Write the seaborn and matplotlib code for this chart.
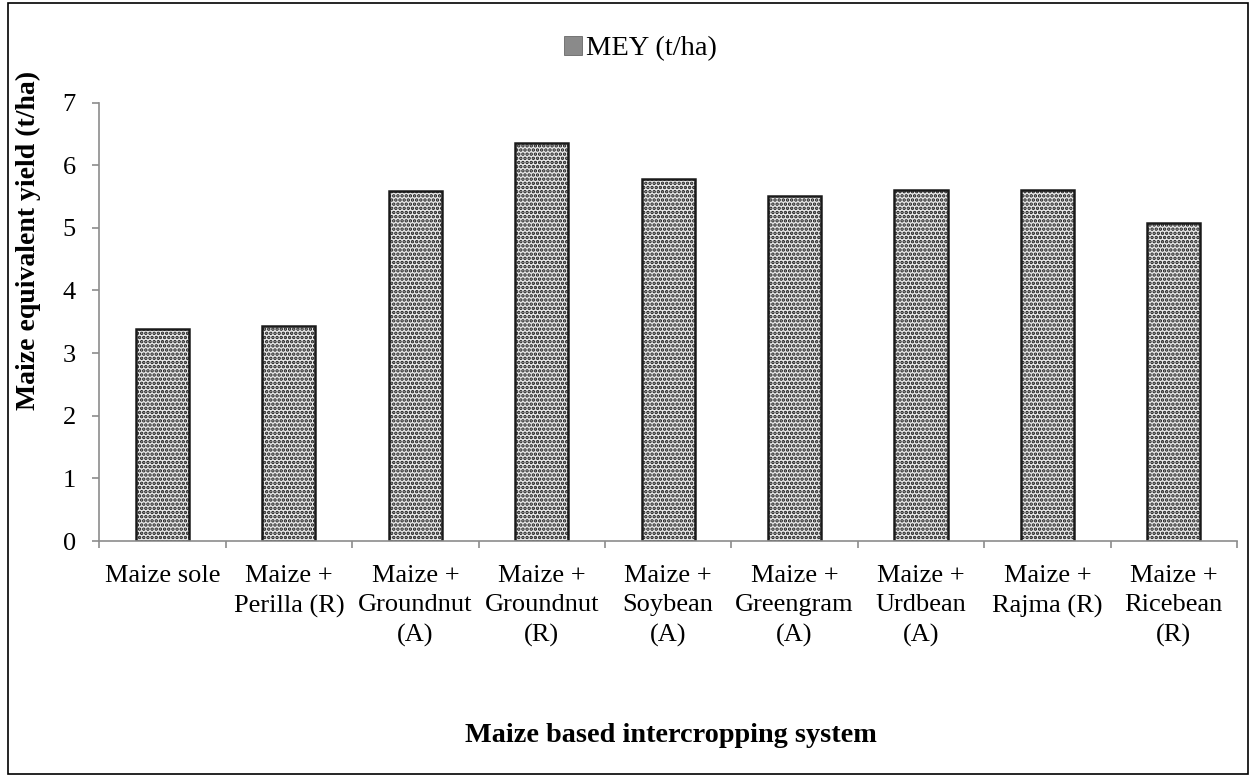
import matplotlib
matplotlib.use("Agg")
import matplotlib.pyplot as plt
import seaborn as sns
import pandas as pd
from matplotlib.patches import Rectangle, Patch

categories = ["Maize sole", "Maize +\nPerilla (R)", "Maize +\nGroundnut\n(A)", "Maize +\nGroundnut\n(R)",
              "Maize +\nSoybean\n(A)", "Maize +\nGreengram\n(A)", "Maize +\nUrdbean\n(A)",
              "Maize +\nRajma (R)", "Maize +\nRicebean\n(R)"]
mey = [3.38, 3.44, 5.58, 6.35, 5.78, 5.50, 5.61, 5.61, 5.08]
series_name = "MEY (t/ha)"
y_ticks = [0, 1, 2, 3, 4, 5, 6, 7]

sns.set_theme(style="white")
plt.rcParams['font.family'] = ['Liberation Serif', 'DejaVu Serif']
plt.rcParams['hatch.linewidth'] = 1.7
plt.rcParams['text.color'] = 'black'

df = pd.DataFrame({"system": categories, "mey": mey})

fig = plt.figure(figsize=(12.51, 7.79), dpi=100)
ax = fig.add_axes([0.0794, 0.3055, 0.9094, 0.5629])

sns.barplot(data=df, x="system", y="mey", ax=ax, color="#e8e8e8", width=0.42,
            edgecolor="#1a1a1a", linewidth=1.8, saturation=1)
for p in ax.patches:
    p.set_hatch("....")

ax.set_ylim(0, 7)
ax.set_xlim(-0.5, len(categories) - 0.5)
ax.set_yticks(y_ticks)
ax.set_yticklabels([str(t) for t in y_ticks], fontsize=19)
ax.set_xticks(range(len(categories)))
ax.set_xticklabels(categories, fontsize=19, linespacing=1.45, va="top")
ax.set_xticks([i - 0.5 for i in range(len(categories) + 1)], minor=True)
ax.tick_params(axis="x", which="major", length=0, pad=17, labelcolor="black")
ax.tick_params(axis="x", which="minor", length=5, width=1.2, color="#8c8c8c", direction="out", bottom=True)
ax.tick_params(axis="y", which="major", length=5, width=1.2, color="#8c8c8c", direction="out", left=True,
               pad=12, labelcolor="black")

for s in ["top", "right"]:
    ax.spines[s].set_visible(False)
for s in ["left", "bottom"]:
    ax.spines[s].set_color("#8c8c8c")
    ax.spines[s].set_linewidth(1.2)

ax.set_xlabel("")
ax.set_ylabel("")
fig.text(671 / 1251, 1 - 735 / 779, "Maize based intercropping system", fontsize=20.3,
         fontweight="bold", ha="center", va="center", color="black")
fig.text(28 / 1251, 1 - 240 / 779, "Maize equivalent yield (t/ha)", fontsize=20,
         fontweight="bold", ha="center", va="center", rotation=90, color="black")

handle = Patch(facecolor="#8a8a8a", edgecolor="#555555", linewidth=0.5)
leg = fig.legend([handle], [series_name], loc="center", bbox_to_anchor=(0.512, 0.938), frameon=False,
                 fontsize=20.5, handlelength=0.65, handleheight=0.65, handletextpad=0.15)
for t in leg.get_texts():
    t.set_color("black")

fig.patches.append(Rectangle((0.006, 0.006), 0.992, 0.99, transform=fig.transFigure,
                             fill=False, edgecolor="black", linewidth=1.2))

fig.savefig("out.png", dpi=100)
